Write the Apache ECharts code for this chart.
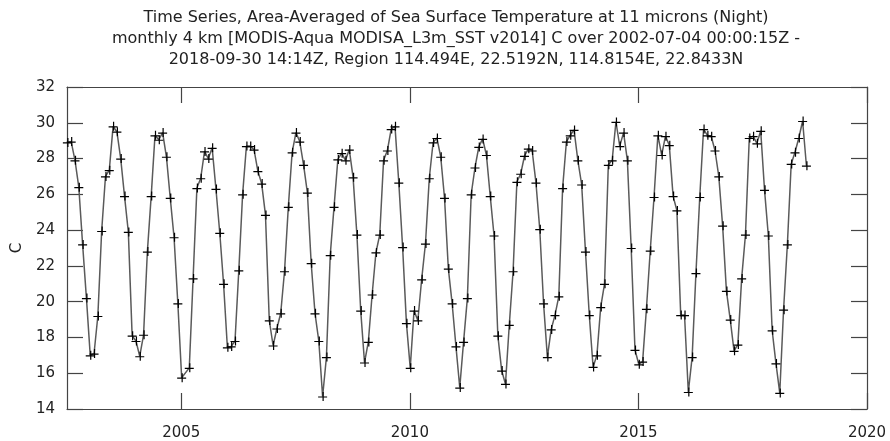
<!DOCTYPE html>
<html>
<head>
<meta charset="utf-8">
<script src="https://cdn.jsdelivr.net/npm/echarts@6/dist/echarts.min.js"></script>
<style>
html,body{margin:0;padding:0;background:#fff;}
#chart{width:890px;height:441px;}
</style>
</head>
<body>
<div id="chart"></div>
<script>
// Monthly series starting 2002-07 (null = missing month, line connects over it)
const startYear = 2002;
const startMonth = 7;
const sstValues = [
  28.9, 28.95, 27.9, 26.4, 23.2, 20.2,
  17.0, 17.1, 19.2, 23.95, 27.0, 27.35, 29.8, 29.5, 28.0, 25.9, 23.9, 18.1,
  17.8, 16.95, 18.15, 22.8, 25.9, 29.3, 29.05, 29.45, 28.1, 25.8, 23.6, 19.9,
  15.75, null, 16.3, 21.3, 26.35, 26.9, 28.4, 28.0, 28.6, 26.3, 23.85, 21.0,
  17.45, 17.5, 17.8, 21.75, 26.0, 28.7, 28.7, 28.5, 27.3, 26.6, 24.85, 18.95,
  17.55, 18.5, 19.35, 21.7, 25.3, 28.35, 29.45, 28.95, 27.65, 26.1, 22.15, 19.35,
  17.8, 14.7, 16.9, 22.6, 25.3, 27.95, 28.3, 27.9, 28.5, 26.95, 23.75, 19.5,
  16.6, 17.75, 20.4, 22.75, 23.75, 27.9, 28.45, 29.65, 29.8, 26.65, 23.05, 18.8,
  16.3, 19.5, 18.95, 21.25, 23.25, 26.9, 28.9, 29.15, 28.1, 25.8, 21.85, 19.9,
  17.5, 15.2, 17.75, 20.2, 26.0, 27.5, 28.65, 29.1, 28.2, 25.9, 23.7, 18.1,
  16.15, 15.4, 18.7, 21.7, 26.7, 27.15, 28.15, 28.55, 28.45, 26.65, 24.05, 19.9,
  16.9, 18.45, 19.25, 20.3, 26.35, 28.95, 29.3, 29.6, 27.9, 26.55, 22.8, 19.25,
  16.35, 17.0, 19.7, 21.0, 27.65, 27.9, 30.05, 28.7, 29.45, 27.9, 23.0, 17.3,
  16.5, 16.65, 19.6, 22.85, 25.85, 29.3, 28.2, 29.25, 28.75, 25.9, 25.1, 19.25,
  19.25, 14.95, 16.9, 21.6, 25.85, 29.65, 29.3, 29.25, 28.45, 27.0, 24.25, 20.6,
  19.0, 17.25, 17.6, 21.3, 23.75, 29.15, 29.25, 28.85, 29.55, 26.25, 23.7, 18.4,
  16.55, 14.9, 19.55, 23.2, 27.7, 28.35, 29.15, 30.1, 27.6
];
const xTickLabels = [2005, 2010, 2015, 2020];
const yTickLabels = [14, 16, 18, 20, 22, 24, 26, 28, 30, 32];
const titleLines = [
  'Time Series, Area-Averaged of Sea Surface Temperature at 11 microns (Night)',
  'monthly 4 km [MODIS-Aqua MODISA_L3m_SST v2014] C over 2002-07-04 00:00:15Z -',
  '2018-09-30 14:14Z, Region 114.494E, 22.5192N, 114.8154E, 22.8433N'
];
const yName = 'C';

// month labels "YYYY-MM"
const months = sstValues.map((_, i) => {
  const t = (startMonth - 1) + i;
  const y = startYear + Math.floor(t / 12);
  const m = (t % 12) + 1;
  return y + '-' + String(m).padStart(2, '0');
});
// decimal-year position of each monthly sample (day 4 of the month)
const seriesData = months.map((lab, i) => {
  const [y, m] = lab.split('-').map(Number);
  return [y + (m - 1) / 12 + 3 / 365, sstValues[i]];
});

const FONT = 'DejaVu Sans';
const TXT = '#222';
const AX = '#444';

const chart = echarts.init(document.getElementById('chart'), null, {renderer: 'canvas'});
const xCommon = {
  type: 'value', min: 2002.5, max: 2020,
  axisLine: {show: true, onZero: false, lineStyle: {color: AX, width: 1.2}},
  splitLine: {show: false}
};
const yCommon = {
  type: 'value', min: 14, max: 32, interval: 2,
  axisLine: {show: true, onZero: false, lineStyle: {color: AX, width: 1.2}},
  splitLine: {show: false}
};
chart.setOption({
  animation: false,
  backgroundColor: '#fff',
  title: {
    text: titleLines.join('\n'),
    left: 456, top: 7, textAlign: 'center', padding: 0,
    textStyle: {fontFamily: FONT, fontSize: 16, lineHeight: 21, fontWeight: 'normal', color: TXT}
  },
  grid: {left: 67, right: 23, top: 87, bottom: 31, containLabel: false},
  xAxis: [
    Object.assign({}, xCommon, {
      position: 'bottom',
      axisTick: {show: true, inside: true, length: 16, customValues: xTickLabels, lineStyle: {color: AX, width: 1.2}},
      axisLabel: {show: true, customValues: xTickLabels, margin: 17, fontFamily: FONT, fontSize: 15, color: TXT,
        formatter: v => String(Math.round(v))}
    }),
    Object.assign({}, xCommon, {
      position: 'top',
      axisTick: {show: true, inside: true, length: 16, customValues: xTickLabels, lineStyle: {color: AX, width: 1.2}},
      axisLabel: {show: false}
    })
  ],
  yAxis: [
    Object.assign({}, yCommon, {
      position: 'left',
      name: yName, nameLocation: 'middle', nameGap: 39, nameRotate: 90,
      nameTextStyle: {fontFamily: FONT, fontSize: 15, color: TXT},
      axisTick: {show: true, inside: true, length: 16, lineStyle: {color: AX, width: 1.2}},
      axisLabel: {show: true, margin: 12, fontFamily: FONT, fontSize: 15, color: TXT,
        customValues: yTickLabels}
    }),
    Object.assign({}, yCommon, {
      position: 'right',
      axisTick: {show: true, inside: true, length: 16, lineStyle: {color: AX, width: 1.2}},
      axisLabel: {show: false}
    })
  ],
  series: [{
    type: 'line',
    xAxisIndex: 0, yAxisIndex: 0,
    data: seriesData,
    connectNulls: true,
    showAllSymbol: true,
    symbol: 'path://M0,4.4L9,4.4L9,5.6L0,5.6Z M4.4,0L5.6,0L5.6,9L4.4,9Z',
    symbolSize: 9,
    symbolKeepAspect: true,
    lineStyle: {color: '#5a5a5a', width: 1.5},
    itemStyle: {color: '#000', borderWidth: 0},
    emphasis: {disabled: true},
    z: 3
  }]
});
</script>
</body>
</html>
